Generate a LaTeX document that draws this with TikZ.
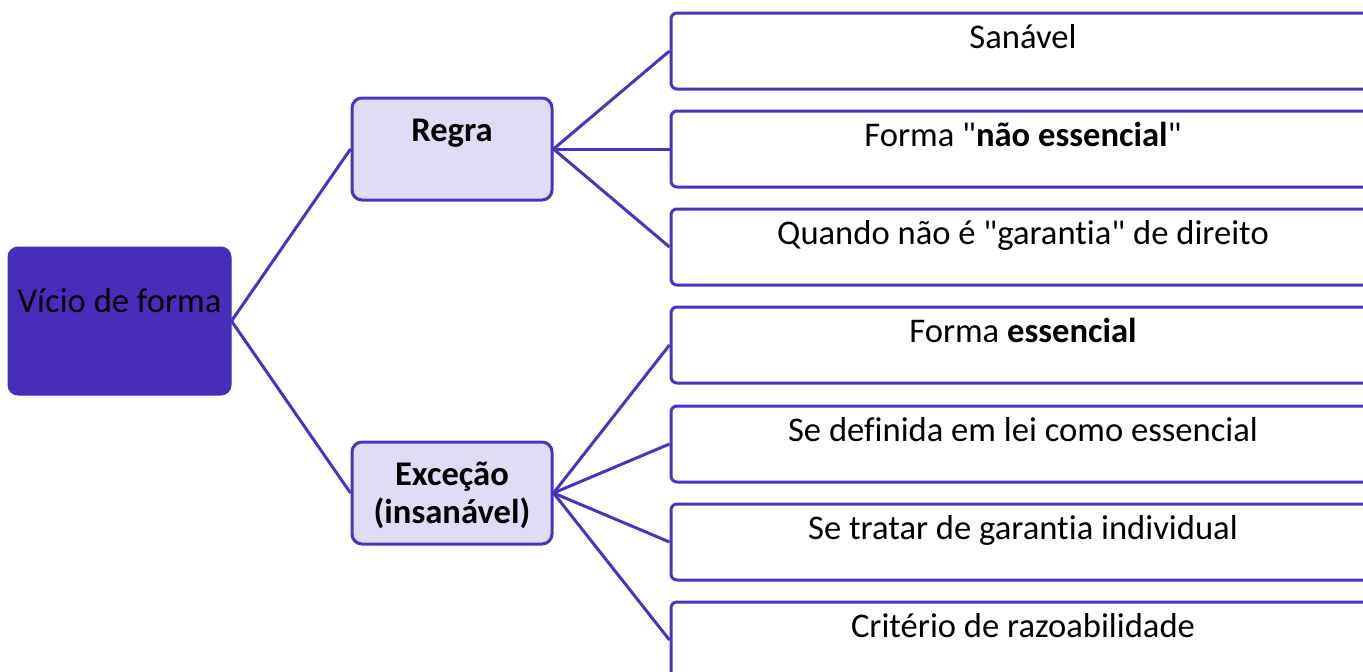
\documentclass[tikz,border=0pt]{standalone}
\usepackage{fontspec}
\setmainfont{Carlito}[Ligatures={TeXOff,NoCommon}]
\definecolor{vpurple}{RGB}{72,44,186}
\definecolor{lpurple}{RGB}{75,50,195}
\definecolor{lav}{RGB}{224,220,245}
\tikzset{
  rootbox/.style={fill=vpurple, draw=vpurple, line width=1pt, rounded corners=10pt, minimum width=223pt, minimum height=148pt, inner sep=0pt},
  midbox/.style={fill=lav, draw=lpurple, line width=3pt, rounded corners=10pt, minimum width=200pt, minimum height=102pt, inner sep=0pt},
  leafbox/.style={fill=white, draw=lpurple, line width=3pt, rounded corners=6pt, minimum width=704pt, minimum height=76pt, inner sep=0pt},
  txt/.style={anchor=base, inner sep=0pt, font=\fontsize{34.6}{41}\selectfont},
  conn/.style={draw=lpurple, line width=3pt},
}
\begin{document}
\begin{tikzpicture}[x=1pt, y=-1pt]
\useasboundingbox (0,0) rectangle (1363,672);
\clip (0,0) rectangle (1363,672);
% nodes
\node[rootbox] (root) at (119.5,321) {};
\node[midbox] (regra) at (452,149) {};
\node[midbox] (exc) at (452,493) {};
\node[leafbox] (l1) at (1023,51) {};
\node[leafbox] (l2) at (1023,149) {};
\node[leafbox] (l3) at (1023,247) {};
\node[leafbox] (l4) at (1023,345) {};
\node[leafbox] (l5) at (1023,444) {};
\node[leafbox] (l6) at (1023,542) {};
\node[leafbox] (l7) at (1023,640) {};
% connectors
\draw[conn] (root.east) -- (regra.west);
\draw[conn] (root.east) -- (exc.west);
\foreach \n in {l1,l2,l3} \draw[conn] (regra.east) -- (\n.west);
\foreach \n in {l4,l5,l6,l7} \draw[conn] (exc.east) -- (\n.west);
% texts
\node[txt] (troot) at (119.5,312) {Vício de forma};
\node[txt] (tregra) at (452,141) {\textbf{Regra}};
\node[txt] (texc1) at (452,485) {\textbf{Exceção}};
\node[txt] (texc2) at (452,523) {\textbf{(insanável)}};
\node[txt] (t1) at (1023,48) {Sanável};
\node[txt] (t2) at (1023,146) {Forma "\textbf{não essencial}"};
\node[txt] (t3) at (1023,244) {Quando não é "garantia" de direito};
\node[txt] (t4) at (1023,342) {Forma \textbf{essencial}};
\node[txt] (t5) at (1023,441) {Se definida em lei como essencial};
\node[txt] (t6) at (1023,539) {Se tratar de garantia individual};
\node[txt] (t7) at (1023,637) {Critério de razoabilidade};
\end{tikzpicture}
\end{document}
